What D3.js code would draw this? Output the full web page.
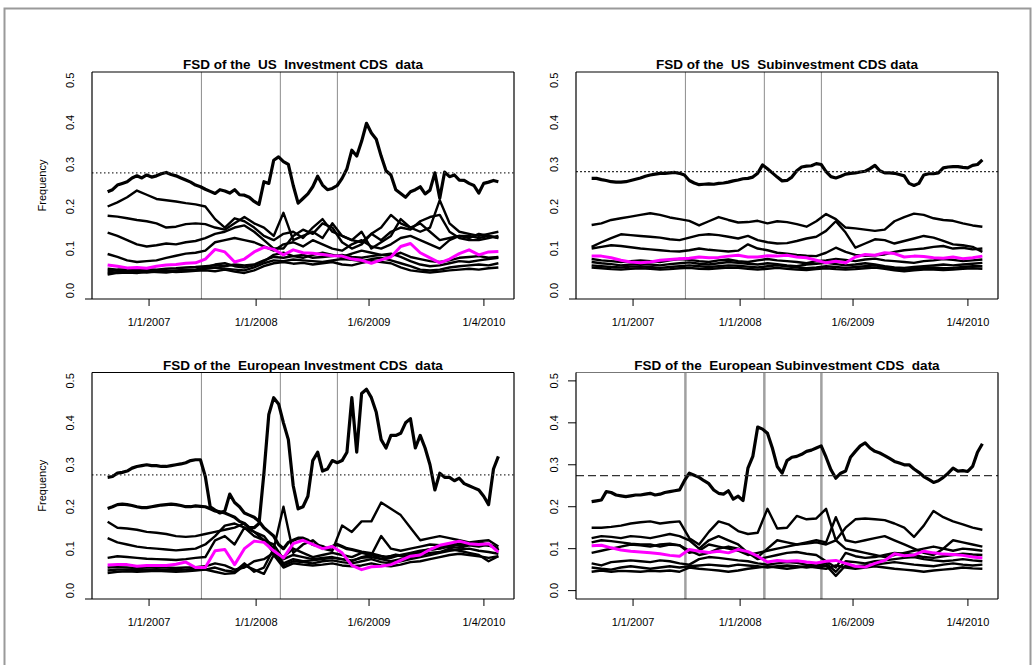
<!DOCTYPE html>
<html>
<head>
<meta charset="utf-8">
<script src="https://cdn.jsdelivr.net/npm/d3@7"></script>
<style>
body { margin: 0; background: #fff; }
text { font-family: "Liberation Sans", Arial, sans-serif; fill: #000; }
</style>
</head>
<body>
<svg id="chart" width="1034" height="665"></svg>
<script>
// observation index runs 0..1000, ticks and event lines sit on that index
const tickIdx = [106, 380, 669, 963]
const tickLabels = ["1/1/2007", "1/1/2008", "1/6/2009", "1/4/2010"]
const eventIdx = [240, 442, 588]
const yTicks = [0, 0.1, 0.2, 0.3, 0.4, 0.5]

const titles = [
    "FSD of the  US  Investment CDS  data",
    "FSD of the  US  Subinvestment CDS data",
    "FSD of the  European Investment CDS  data",
    "FSD of the  European Subinvestment CDS  data"
]
const thresholds = [0.280, 0.283, 0.276, 0.274]

// US investment
const usInvA = [0.235,0.240,0.251,0.255,0.259,0.268,0.273,0.268,0.275,0.270,0.273,0.278,0.281,0.276,0.273,0.268,0.263,0.258,0.251,0.247,
    0.241,0.236,0.231,0.240,0.237,0.232,0.240,0.228,0.227,0.222,0.212,0.205,0.259,0.255,0.310,0.318,0.307,0.300,0.250,0.208,
    0.219,0.230,0.247,0.272,0.251,0.240,0.243,0.250,0.267,0.290,0.334,0.320,0.355,0.398,0.375,0.360,0.320,0.285,0.275,0.240,
    0.231,0.222,0.235,0.240,0.247,0.230,0.239,0.280,0.220,0.282,0.271,0.275,0.263,0.262,0.255,0.250,0.232,0.255,0.258,0.262,0.259]
const usInvB = [0.200,0.210,0.222,0.238,0.228,0.218,0.215,0.212,0.208,0.205,0.200,0.170,0.150,0.172,0.165,0.150,0.130,0.120,0.135,0.140,0.125,0.150,0.170,0.140,0.130,0.120,0.115,0.135,0.150,0.180,0.160,0.150,0.140,0.150,0.215,0.160,0.140,0.135,0.130,0.135,0.140]
const usInvC = [0.178,0.176,0.172,0.168,0.165,0.160,0.150,0.152,0.158,0.160,0.158,0.150,0.145,0.160,0.175,0.160,0.150,0.130,0.185,0.120,0.130,0.140,0.125,0.160,0.130,0.120,0.140,0.100,0.115,0.130,0.170,0.150,0.160,0.140,0.120,0.125,0.130,0.130,0.125,0.130,0.125]
const usInvD = [0.138,0.130,0.120,0.110,0.105,0.108,0.112,0.110,0.115,0.118,0.125,0.135,0.140,0.150,0.155,0.140,0.120,0.100,0.100,0.130,0.145,0.135,0.160,0.150,0.115,0.100,0.110,0.135,0.120,0.140,0.150,0.145,0.165,0.175,0.180,0.140,0.125,0.120,0.120,0.125,0.130]
const usInvE = [0.087,0.080,0.072,0.068,0.070,0.072,0.078,0.083,0.088,0.090,0.095,0.115,0.120,0.125,0.120,0.115,0.105,0.095,0.110,0.115,0.105,0.120,0.110,0.100,0.095,0.110,0.120,0.105,0.100,0.110,0.125,0.130,0.120,0.110,0.100,0.120,0.130,0.125,0.135,0.130,0.125]
const usInvF = [0.052,0.050,0.050,0.052,0.051,0.050,0.052,0.053,0.055,0.056,0.058,0.060,0.058,0.062,0.060,0.062,0.072,0.080,0.078,0.082,0.085,0.078,0.080,0.082,0.085,0.080,0.078,0.082,0.085,0.088,0.080,0.070,0.062,0.058,0.060,0.065,0.070,0.068,0.072,0.075,0.078]
const usInvG = [0.046,0.048,0.047,0.046,0.048,0.047,0.046,0.048,0.050,0.049,0.052,0.055,0.052,0.050,0.048,0.055,0.065,0.072,0.070,0.074,0.072,0.070,0.068,0.072,0.075,0.073,0.070,0.075,0.078,0.072,0.065,0.058,0.050,0.048,0.050,0.055,0.058,0.060,0.062,0.060,0.065]
const usInvH = [0.042,0.044,0.045,0.044,0.043,0.045,0.046,0.044,0.045,0.047,0.048,0.046,0.050,0.045,0.042,0.048,0.058,0.065,0.068,0.064,0.066,0.062,0.065,0.068,0.062,0.060,0.066,0.070,0.068,0.065,0.055,0.048,0.045,0.043,0.045,0.048,0.050,0.052,0.050,0.053,0.055]
const usInvI = [0.038,0.042,0.043,0.042,0.045,0.044,0.043,0.046,0.048,0.050,0.055,0.062,0.065,0.058,0.055,0.060,0.070,0.085,0.090,0.082,0.078,0.085,0.090,0.085,0.080,0.088,0.095,0.090,0.085,0.082,0.090,0.080,0.075,0.070,0.068,0.072,0.078,0.080,0.082,0.078,0.080]
const usInvMean = [0.061,0.058,0.054,0.055,0.053,0.058,0.061,0.062,0.065,0.066,0.075,0.098,0.092,0.068,0.075,0.092,0.103,0.098,0.085,0.097,0.090,0.089,0.086,0.083,0.082,0.075,0.072,0.065,0.073,0.080,0.105,0.112,0.090,0.078,0.066,0.075,0.088,0.097,0.085,0.092,0.093]

// US subinvestment
const usSubA = [0.267,0.267,0.264,0.262,0.259,0.258,0.258,0.259,0.262,0.265,0.268,0.272,0.275,0.277,0.279,0.279,0.280,0.281,0.279,0.275,
    0.262,0.256,0.252,0.253,0.254,0.253,0.255,0.256,0.258,0.261,0.263,0.266,0.267,0.270,0.279,0.299,0.290,0.280,0.270,0.261,
    0.262,0.270,0.285,0.294,0.296,0.297,0.302,0.300,0.283,0.271,0.268,0.272,0.277,0.279,0.280,0.282,0.284,0.290,0.298,0.285,
    0.280,0.280,0.279,0.276,0.273,0.255,0.250,0.255,0.275,0.278,0.278,0.280,0.292,0.294,0.295,0.295,0.293,0.292,0.298,0.300,0.311]
const usSubB = [0.156,0.160,0.168,0.172,0.176,0.180,0.184,0.180,0.174,0.170,0.166,0.155,0.165,0.175,0.168,0.162,0.163,0.166,0.160,0.165,0.163,0.158,0.152,0.165,0.182,0.170,0.150,0.148,0.145,0.142,0.145,0.165,0.175,0.183,0.180,0.172,0.168,0.166,0.160,0.155,0.152]
const usSubC = [0.104,0.115,0.125,0.134,0.132,0.130,0.128,0.126,0.122,0.120,0.126,0.132,0.134,0.132,0.128,0.124,0.130,0.120,0.115,0.112,0.113,0.118,0.124,0.128,0.142,0.165,0.138,0.102,0.112,0.122,0.120,0.112,0.118,0.124,0.130,0.126,0.118,0.110,0.108,0.104,0.092]
const usSubD = [0.100,0.104,0.108,0.106,0.103,0.100,0.098,0.096,0.094,0.093,0.096,0.100,0.097,0.095,0.093,0.095,0.110,0.100,0.096,0.090,0.088,0.085,0.083,0.082,0.090,0.102,0.092,0.085,0.083,0.084,0.086,0.092,0.096,0.098,0.100,0.104,0.106,0.100,0.102,0.098,0.100]
const usSubE = [0.075,0.072,0.070,0.068,0.070,0.072,0.070,0.068,0.072,0.075,0.073,0.070,0.068,0.072,0.074,0.070,0.068,0.072,0.075,0.072,0.070,0.068,0.065,0.070,0.072,0.075,0.073,0.070,0.074,0.076,0.072,0.070,0.068,0.066,0.070,0.072,0.075,0.073,0.070,0.072,0.074]
const usSubF = [0.068,0.065,0.063,0.060,0.062,0.064,0.062,0.060,0.063,0.065,0.067,0.064,0.062,0.065,0.068,0.066,0.064,0.062,0.065,0.063,0.060,0.058,0.062,0.064,0.066,0.063,0.060,0.062,0.065,0.062,0.058,0.055,0.054,0.056,0.058,0.060,0.062,0.060,0.062,0.064,0.066]
const usSubG = [0.060,0.058,0.056,0.055,0.057,0.058,0.056,0.054,0.056,0.058,0.060,0.058,0.056,0.058,0.060,0.059,0.057,0.055,0.058,0.060,0.058,0.055,0.053,0.055,0.058,0.056,0.054,0.056,0.058,0.060,0.056,0.052,0.050,0.052,0.054,0.055,0.053,0.054,0.056,0.058,0.058]
const usSubH = [0.055,0.053,0.051,0.050,0.052,0.053,0.052,0.050,0.051,0.053,0.054,0.052,0.051,0.053,0.055,0.054,0.052,0.050,0.052,0.054,0.052,0.050,0.049,0.051,0.053,0.051,0.050,0.051,0.053,0.055,0.052,0.048,0.046,0.048,0.050,0.050,0.049,0.050,0.052,0.053,0.052]
const usSubMean = [0.082,0.082,0.078,0.072,0.068,0.066,0.068,0.072,0.074,0.076,0.077,0.080,0.078,0.079,0.082,0.084,0.080,0.080,0.083,0.082,0.084,0.080,0.078,0.072,0.066,0.070,0.066,0.080,0.086,0.084,0.090,0.088,0.080,0.082,0.081,0.078,0.077,0.080,0.076,0.078,0.082]

// European investment
const euInvA = [0.270,0.272,0.280,0.282,0.285,0.292,0.296,0.298,0.300,0.298,0.298,0.296,0.296,0.298,0.300,0.302,0.305,0.310,0.312,0.312,
    0.272,0.200,0.192,0.185,0.190,0.230,0.210,0.200,0.185,0.180,0.175,0.165,0.150,0.140,0.130,0.110,0.100,0.115,0.120,0.125,
    0.125,0.120,0.110,0.108,0.105,0.100,0.105,0.110,0.105,0.100,0.098,0.095,0.092,0.090,0.088,0.085,0.082,0.080,0.082,0.085,
    0.083,0.082,0.085,0.090,0.092,0.095,0.098,0.100,0.102,0.105,0.108,0.110,0.108,0.108,0.110,0.112,0.110,0.110,0.108,0.105,0.095]
const euInvB = [0.196,0.200,0.205,0.206,0.205,0.203,0.200,0.198,0.198,0.200,0.202,0.204,0.205,0.206,0.205,0.203,0.200,0.200,0.202,0.201,
    0.200,0.195,0.190,0.188,0.185,0.180,0.175,0.165,0.160,0.150,0.150,0.160,0.280,0.420,0.460,0.445,0.400,0.360,0.250,0.195,
    0.200,0.225,0.310,0.330,0.285,0.290,0.310,0.305,0.310,0.330,0.460,0.330,0.470,0.480,0.460,0.425,0.360,0.340,0.370,0.370,
    0.375,0.400,0.410,0.340,0.370,0.340,0.300,0.240,0.280,0.270,0.270,0.262,0.268,0.255,0.250,0.245,0.240,0.225,0.205,0.290,0.320]
const euInvC = [0.164,0.150,0.148,0.145,0.140,0.138,0.135,0.130,0.128,0.130,0.135,0.140,0.145,0.150,0.160,0.140,0.130,0.100,0.200,0.090,0.110,0.120,0.100,0.095,0.155,0.140,0.165,0.165,0.210,0.195,0.180,0.150,0.120,0.125,0.130,0.125,0.120,0.115,0.118,0.120,0.105]
const euInvD = [0.125,0.115,0.110,0.105,0.102,0.100,0.098,0.096,0.098,0.100,0.110,0.130,0.155,0.160,0.150,0.140,0.120,0.090,0.080,0.100,0.090,0.080,0.085,0.090,0.085,0.080,0.090,0.085,0.130,0.100,0.095,0.100,0.105,0.110,0.108,0.105,0.112,0.110,0.115,0.110,0.100]
const euInvE = [0.078,0.082,0.080,0.078,0.076,0.075,0.074,0.073,0.075,0.078,0.080,0.120,0.130,0.110,0.150,0.130,0.120,0.110,0.075,0.085,0.080,0.075,0.078,0.080,0.075,0.072,0.078,0.080,0.075,0.078,0.085,0.090,0.095,0.098,0.100,0.105,0.102,0.108,0.105,0.110,0.098]
const euInvF = [0.055,0.056,0.055,0.054,0.055,0.056,0.055,0.054,0.055,0.056,0.058,0.065,0.060,0.050,0.055,0.070,0.075,0.090,0.060,0.070,0.068,0.065,0.070,0.072,0.068,0.065,0.070,0.075,0.068,0.065,0.070,0.075,0.080,0.085,0.090,0.095,0.098,0.100,0.095,0.092,0.088]
const euInvG = [0.048,0.050,0.050,0.049,0.050,0.051,0.050,0.049,0.050,0.052,0.050,0.045,0.040,0.042,0.060,0.050,0.040,0.085,0.055,0.065,0.062,0.060,0.062,0.065,0.060,0.058,0.060,0.065,0.060,0.058,0.062,0.068,0.070,0.075,0.080,0.085,0.088,0.085,0.082,0.078,0.082]
const euInvH = [0.042,0.045,0.046,0.045,0.046,0.047,0.046,0.045,0.046,0.048,0.050,0.055,0.048,0.045,0.065,0.045,0.055,0.100,0.065,0.075,0.070,0.072,0.075,0.078,0.075,0.070,0.080,0.085,0.075,0.070,0.075,0.080,0.085,0.090,0.092,0.100,0.095,0.090,0.085,0.070,0.082]
const euInvMean = [0.061,0.062,0.062,0.058,0.060,0.060,0.060,0.063,0.068,0.055,0.055,0.095,0.098,0.062,0.100,0.118,0.115,0.095,0.078,0.112,0.120,0.110,0.100,0.105,0.090,0.060,0.050,0.057,0.058,0.062,0.072,0.082,0.085,0.098,0.108,0.113,0.118,0.112,0.110,0.112,0.092]

// European subinvestment
const euSubA = [0.212,0.214,0.216,0.236,0.234,0.228,0.226,0.224,0.226,0.228,0.228,0.230,0.232,0.228,0.230,0.234,0.236,0.238,0.240,0.262,
    0.280,0.275,0.270,0.262,0.255,0.240,0.232,0.230,0.238,0.218,0.225,0.215,0.292,0.320,0.390,0.385,0.375,0.340,0.296,0.280,
    0.310,0.318,0.320,0.325,0.332,0.335,0.340,0.345,0.318,0.288,0.268,0.280,0.285,0.318,0.332,0.345,0.352,0.340,0.332,0.328,
    0.322,0.315,0.308,0.304,0.300,0.300,0.290,0.282,0.272,0.265,0.258,0.262,0.270,0.280,0.292,0.285,0.286,0.284,0.296,0.330,0.350]
const euSubB = [0.150,0.150,0.152,0.155,0.160,0.163,0.165,0.160,0.163,0.165,0.125,0.110,0.140,0.165,0.158,0.142,0.135,0.138,0.195,0.148,0.150,0.178,0.170,0.172,0.195,0.120,0.150,0.170,0.172,0.170,0.168,0.160,0.150,0.128,0.155,0.190,0.175,0.165,0.158,0.150,0.145]
const euSubC = [0.125,0.130,0.128,0.125,0.130,0.128,0.125,0.130,0.135,0.130,0.120,0.100,0.120,0.130,0.120,0.110,0.090,0.080,0.100,0.120,0.115,0.110,0.115,0.120,0.115,0.175,0.120,0.115,0.120,0.125,0.130,0.120,0.110,0.100,0.090,0.085,0.100,0.120,0.115,0.110,0.105]
const euSubD = [0.115,0.120,0.118,0.115,0.112,0.110,0.110,0.105,0.110,0.108,0.090,0.095,0.110,0.105,0.100,0.095,0.085,0.090,0.095,0.100,0.105,0.110,0.112,0.115,0.110,0.120,0.100,0.095,0.090,0.085,0.080,0.085,0.090,0.095,0.100,0.105,0.100,0.095,0.100,0.098,0.095]
const euSubE = [0.090,0.095,0.100,0.105,0.110,0.108,0.105,0.110,0.112,0.108,0.095,0.085,0.090,0.100,0.105,0.100,0.090,0.075,0.080,0.085,0.090,0.092,0.088,0.085,0.070,0.055,0.090,0.082,0.078,0.080,0.085,0.090,0.088,0.085,0.080,0.078,0.082,0.085,0.088,0.086,0.085]
const euSubF = [0.065,0.060,0.068,0.070,0.072,0.070,0.068,0.072,0.070,0.065,0.062,0.075,0.080,0.078,0.075,0.072,0.070,0.065,0.062,0.065,0.068,0.066,0.062,0.060,0.065,0.045,0.070,0.068,0.065,0.070,0.072,0.075,0.078,0.080,0.075,0.072,0.070,0.072,0.075,0.072,0.070]
const euSubG = [0.055,0.052,0.050,0.055,0.058,0.055,0.052,0.055,0.058,0.055,0.058,0.060,0.062,0.060,0.058,0.062,0.060,0.058,0.055,0.058,0.060,0.058,0.055,0.058,0.060,0.035,0.060,0.058,0.060,0.062,0.065,0.068,0.065,0.062,0.060,0.058,0.062,0.065,0.062,0.060,0.062]
const euSubH = [0.045,0.048,0.045,0.047,0.046,0.045,0.047,0.046,0.048,0.045,0.055,0.052,0.050,0.048,0.045,0.048,0.052,0.055,0.058,0.055,0.052,0.055,0.058,0.055,0.052,0.060,0.055,0.052,0.055,0.058,0.055,0.052,0.050,0.048,0.045,0.048,0.050,0.052,0.055,0.053,0.052]
const euSubMean = [0.107,0.108,0.102,0.097,0.094,0.092,0.090,0.088,0.084,0.082,0.098,0.094,0.091,0.094,0.090,0.098,0.093,0.082,0.068,0.072,0.070,0.071,0.068,0.066,0.070,0.072,0.065,0.058,0.056,0.065,0.072,0.088,0.083,0.085,0.094,0.090,0.087,0.086,0.084,0.080,0.078]

const panelSeries = [
    [usInvA, usInvB, usInvC, usInvD, usInvE, usInvF, usInvG, usInvH, usInvI],
    [usSubA, usSubB, usSubC, usSubD, usSubE, usSubF, usSubG, usSubH],
    [euInvA, euInvB, euInvC, euInvD, euInvE, euInvF, euInvG, euInvH],
    [euSubA, euSubB, euSubC, euSubD, euSubE, euSubF, euSubG, euSubH]
]
const panelMeans = [usInvMean, usSubMean, euInvMean, euSubMean]
// which series are drawn with the heavy pen
const heavySeries = [[0], [0], [0, 1], [0]]

const panels = [
    { x: 92, y: 72, w: 422, h: 227, ylab: true, dash: "1.5 2.5", eventWidth: 1, eventColor: "#8c8c8c", yAxisTicks: false },
    { x: 576, y: 72, w: 422, h: 227, ylab: false, dash: "2 2", eventWidth: 1, eventColor: "#8c8c8c", yAxisTicks: false },
    { x: 92, y: 372.5, w: 422, h: 226.5, ylab: true, dash: "1.5 2.5", eventWidth: 1, eventColor: "#8c8c8c", yAxisTicks: false },
    { x: 576, y: 372.5, w: 422, h: 226.5, ylab: false, dash: "8 4", eventWidth: 2.5, eventColor: "#a0a0a0", yAxisTicks: true }
]

const svg = d3.select("#chart")

// outer frame
svg.append("rect")
    .attr("x", 4.5).attr("y", 8.5)
    .attr("width", 1026).attr("height", 700)
    .attr("fill", "none")
    .attr("stroke", "#9a9a9a")
    .attr("stroke-width", 2)

panels.forEach((p, pi) => {

    const g = svg.append("g").attr("transform", `translate(${p.x},${p.y})`)

    const x = d3.scaleLinear().domain([-40, 1040]).range([0, p.w])
    const y = d3.scaleLinear().domain([-0.02, 0.52]).range([p.h, 0])

    g.append("text")
        .attr("x", p.w / 2).attr("y", -3)
        .attr("text-anchor", "middle")
        .attr("font-size", 13.5)
        .attr("font-weight", "bold")
        .style("white-space", "pre")
        .text(titles[pi])

    // event lines
    g.append("g").selectAll("line")
        .data(eventIdx)
        .join("line")
        .attr("x1", d => x(d)).attr("x2", d => x(d))
        .attr("y1", 0).attr("y2", p.h)
        .attr("stroke", p.eventColor)
        .attr("stroke-width", p.eventWidth)

    const line = d3.line()
        .x((d, i, arr) => x(i * 1000 / (arr.length - 1)))
        .y(d => y(d))

    g.append("g").selectAll("path")
        .data(panelSeries[pi])
        .join("path")
        .attr("d", d => line(d))
        .attr("fill", "none")
        .attr("stroke", "#000")
        .attr("stroke-width", (d, i) => heavySeries[pi].includes(i) ? 3.2 : 2.4)
        .attr("stroke-linejoin", "round")

    g.append("path")
        .attr("d", line(panelMeans[pi]))
        .attr("fill", "none")
        .attr("stroke", "#ff00ff")
        .attr("stroke-width", 3)
        .attr("stroke-linejoin", "round")

    // threshold
    g.append("line")
        .attr("x1", 0).attr("x2", p.w)
        .attr("y1", y(thresholds[pi])).attr("y2", y(thresholds[pi]))
        .attr("stroke", "#333")
        .attr("stroke-width", 1.2)
        .attr("stroke-dasharray", p.dash)

    // box
    const box = g.append("g").attr("fill", "none").attr("stroke-width", 1.2)
    box.append("line").attr("x1", 0).attr("x2", p.w).attr("y1", 0).attr("y2", 0)
        .attr("stroke", p.yAxisTicks ? "#777" : "#000")
    box.append("line").attr("x1", p.w).attr("x2", p.w).attr("y1", 0).attr("y2", p.h).attr("stroke", "#000")
    box.append("line").attr("x1", 0).attr("x2", 0).attr("y1", 0).attr("y2", p.h).attr("stroke", "#000")
    box.append("line").attr("x1", p.yAxisTicks ? 0 : -7).attr("x2", p.w).attr("y1", p.h).attr("y2", p.h).attr("stroke", "#000")

    // x ticks
    const xt = g.append("g").attr("transform", `translate(0,${p.h})`)
    xt.selectAll("line")
        .data(tickIdx)
        .join("line")
        .attr("x1", d => x(d)).attr("x2", d => x(d))
        .attr("y1", 0).attr("y2", 7)
        .attr("stroke", "#000")
    xt.selectAll("text")
        .data(tickIdx)
        .join("text")
        .attr("x", d => x(d)).attr("y", 27)
        .attr("text-anchor", "middle")
        .attr("font-size", 11)
        .text((d, i) => tickLabels[i])

    // y ticks
    if (p.yAxisTicks) {
        g.append("g").selectAll("line")
            .data(yTicks)
            .join("line")
            .attr("x1", -8).attr("x2", 0)
            .attr("y1", d => y(d)).attr("y2", d => y(d))
            .attr("stroke", "#000")
    }
    g.append("g").selectAll("text")
        .data(yTicks)
        .join("text")
        .attr("transform", d => `translate(-18,${y(d)}) rotate(-90)`)
        .attr("text-anchor", "middle")
        .attr("font-size", 11)
        .text(d => d3.format(".1f")(d))

    if (p.ylab) {
        g.append("text")
            .attr("transform", `translate(-46,${p.h / 2}) rotate(-90)`)
            .attr("text-anchor", "middle")
            .attr("font-size", 11)
            .text("Frequency")
    }
})
</script>
</body>
</html>
